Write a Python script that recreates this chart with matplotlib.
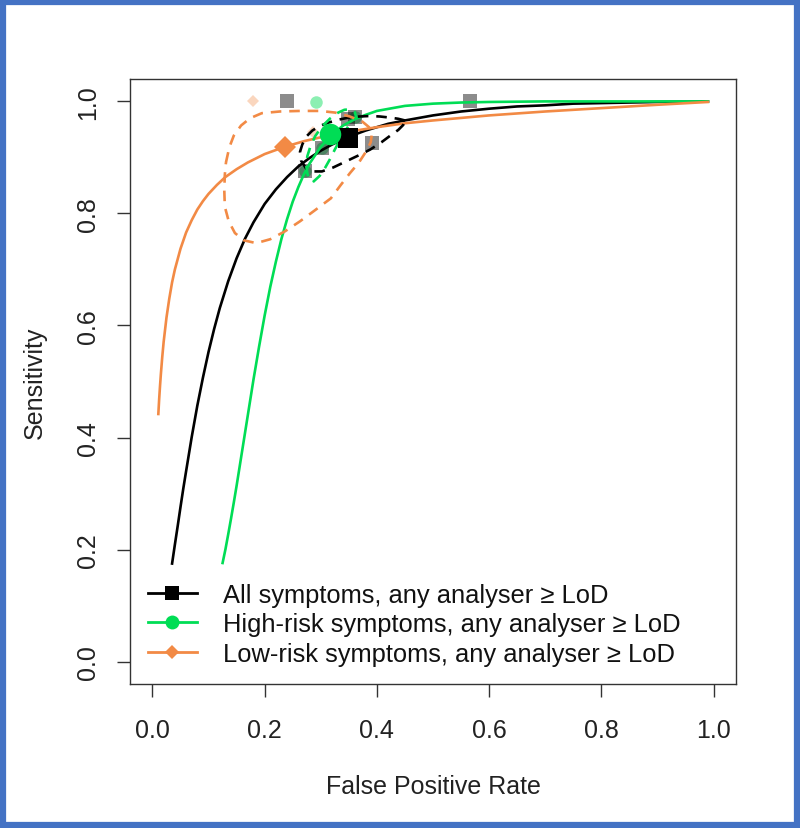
import matplotlib
matplotlib.use('Agg')
import matplotlib.pyplot as plt
from matplotlib.patches import Rectangle
from matplotlib.lines import Line2D

plt.rcParams['font.family'] = ['Liberation Sans', 'DejaVu Sans']

# ---------------- data ----------------
series_labels = ["All symptoms, any analyser \u2265 LoD",
                 "High-risk symptoms, any analyser \u2265 LoD",
                 "Low-risk symptoms, any analyser \u2265 LoD"]

# SROC curves (FPR, sensitivity)
all_curve_fpr = [0.035, 0.04, 0.045, 0.05, 0.055, 0.06, 0.07, 0.08, 0.09, 0.10, 0.11, 0.12,
                 0.135, 0.15, 0.165, 0.18, 0.20, 0.22, 0.24, 0.26, 0.28, 0.30, 0.32, 0.35,
                 0.38, 0.42, 0.45, 0.50, 0.55, 0.60, 0.65, 0.70, 0.75, 0.80, 0.90, 0.99]
all_curve_sens = [0.175, 0.209, 0.242, 0.276, 0.309, 0.340, 0.401, 0.457, 0.507, 0.553, 0.594, 0.631,
                  0.679, 0.720, 0.755, 0.784, 0.817, 0.843, 0.865, 0.884, 0.899, 0.912, 0.923, 0.937,
                  0.948, 0.960, 0.966, 0.975, 0.982, 0.987, 0.991, 0.993, 0.996, 0.997, 0.999, 1.000]

high_curve_fpr = [0.125, 0.13, 0.135, 0.14, 0.145, 0.15, 0.16, 0.17, 0.18, 0.19, 0.20, 0.21,
                  0.22, 0.23, 0.24, 0.25, 0.26, 0.27, 0.28, 0.30, 0.32, 0.34, 0.36, 0.38,
                  0.40, 0.45, 0.50, 0.55, 0.60, 0.70, 0.80, 0.90, 0.99]
high_curve_sens = [0.176, 0.200, 0.227, 0.255, 0.284, 0.314, 0.377, 0.440, 0.503, 0.562, 0.618, 0.669,
                   0.714, 0.755, 0.790, 0.821, 0.847, 0.870, 0.889, 0.919, 0.941, 0.957, 0.968, 0.976,
                   0.983, 0.992, 0.996, 0.998, 0.999, 1.000, 1.000, 1.000, 1.000]

low_curve_fpr = [0.0105, 0.012, 0.0135, 0.015, 0.0175, 0.02, 0.025, 0.03, 0.035, 0.04, 0.05,
                 0.06, 0.07, 0.08, 0.09, 0.10, 0.115, 0.13, 0.15, 0.17, 0.20, 0.236, 0.27,
                 0.30, 0.35, 0.40, 0.45, 0.50, 0.60, 0.70, 0.80, 0.90, 0.99]
low_curve_sens = [0.442, 0.469, 0.492, 0.513, 0.544, 0.571, 0.614, 0.648, 0.677, 0.700, 0.737,
                  0.766, 0.788, 0.807, 0.822, 0.835, 0.851, 0.865, 0.879, 0.891, 0.906, 0.919, 0.929,
                  0.936, 0.946, 0.954, 0.961, 0.966, 0.975, 0.982, 0.988, 0.994, 0.999]

# 95% confidence regions (dashed)
all_ci_fpr = [0.450, 0.438, 0.424, 0.406, 0.388, 0.368, 0.349, 0.330, 0.313, 0.298, 0.285,
              0.274, 0.267, 0.263, 0.265, 0.274, 0.287, 0.302, 0.322, 0.343, 0.366, 0.388,
              0.408, 0.424, 0.438, 0.447, 0.450]
all_ci_sens = [0.966, 0.969, 0.971, 0.973, 0.974, 0.973, 0.971, 0.967, 0.962, 0.956, 0.948,
               0.937, 0.923, 0.910, 0.894, 0.880, 0.875, 0.875, 0.882, 0.892, 0.903, 0.914,
               0.927, 0.939, 0.949, 0.958, 0.966]

high_ci_fpr = [0.286, 0.298, 0.308, 0.317, 0.325, 0.334, 0.343, 0.354, 0.363, 0.360, 0.352,
               0.342, 0.331, 0.316, 0.302, 0.290, 0.281, 0.276, 0.274, 0.276, 0.279, 0.286]
high_ci_sens = [0.856, 0.867, 0.882, 0.898, 0.914, 0.931, 0.947, 0.962, 0.973, 0.982, 0.986,
                0.985, 0.980, 0.969, 0.955, 0.938, 0.918, 0.902, 0.886, 0.872, 0.861, 0.856]

low_ci_fpr = [0.131, 0.137, 0.145, 0.158, 0.174, 0.195, 0.227, 0.263, 0.299, 0.326, 0.352,
              0.374, 0.386, 0.391, 0.389, 0.381, 0.368, 0.352, 0.335, 0.318, 0.290, 0.263,
              0.236, 0.210, 0.185, 0.163, 0.147, 0.136, 0.129, 0.128, 0.129, 0.131]
low_ci_sens = [0.891, 0.918, 0.939, 0.957, 0.970, 0.979, 0.982, 0.983, 0.983, 0.980, 0.973,
               0.964, 0.954, 0.941, 0.927, 0.911, 0.891, 0.872, 0.850, 0.827, 0.806, 0.786,
               0.768, 0.754, 0.747, 0.752, 0.765, 0.786, 0.812, 0.843, 0.869, 0.891]

# individual studies
all_study_fpr = [0.239, 0.566, 0.361, 0.349, 0.392, 0.302, 0.271]
all_study_sens = [1.000, 1.000, 0.972, 0.968, 0.926, 0.916, 0.875]
high_study_fpr = [0.291, 0.361, 0.302, 0.271]
high_study_sens = [0.999, 0.972, 0.916, 0.875]
low_study_fpr = [0.179, 0.286]
low_study_sens = [1.000, 0.945]

# summary points
summary_fpr = [0.349, 0.317, 0.236]
summary_sens = [0.935, 0.941, 0.919]

x_ticks = [0.0, 0.2, 0.4, 0.6, 0.8, 1.0]
y_ticks = [0.0, 0.2, 0.4, 0.6, 0.8, 1.0]

# ---------------- styling ----------------
BLACK = '#000000'
GREEN = '#00DD55'
ORANGE = '#F28A45'
FS = 18

fig = plt.figure(figsize=(8.0, 8.29), dpi=100)
ax = fig.add_axes([130/800, 144/829, 606/800, 605/829])

# studies
ax.plot(high_study_fpr, high_study_sens, 'o', color=GREEN, alpha=0.45, ms=9, mew=0, zorder=2)
ax.plot(low_study_fpr, low_study_sens, 'D', color=ORANGE, alpha=0.35, ms=6.5, mew=0, zorder=2)
ax.plot(all_study_fpr, all_study_sens, 's', color=BLACK, alpha=0.45, ms=9.5, mew=0, zorder=2)

# curves
lw = 1.9
ax.plot(all_curve_fpr, all_curve_sens, '-', color=BLACK, lw=lw, zorder=3)
ax.plot(high_curve_fpr, high_curve_sens, '-', color=GREEN, lw=lw, zorder=3)
ax.plot(low_curve_fpr, low_curve_sens, '-', color=ORANGE, lw=lw, zorder=3)

# confidence regions
dash = (0, (4, 3))
ax.plot(all_ci_fpr, all_ci_sens, color=BLACK, lw=lw, ls=dash, zorder=3)
ax.plot(high_ci_fpr, high_ci_sens, color=GREEN, lw=lw, ls=dash, zorder=3)
ax.plot(low_ci_fpr, low_ci_sens, color=ORANGE, lw=lw, ls=dash, zorder=3)

# summary points
ax.plot(summary_fpr[0], summary_sens[0], 's', color=BLACK, ms=15, mew=0, zorder=4)
ax.plot(summary_fpr[1], summary_sens[1], 'o', color=GREEN, ms=15.5, mew=0, zorder=5)
ax.plot(summary_fpr[2], summary_sens[2], 'D', color=ORANGE, ms=11, mew=0, zorder=4)

ax.set_xlim(-0.04, 1.04)
ax.set_ylim(-0.04, 1.04)
ax.set_xticks(x_ticks)
ax.set_yticks(y_ticks)
ax.set_xticklabels([f"{v:.1f}" for v in x_ticks])
ax.set_yticklabels([f"{v:.1f}" for v in y_ticks], rotation=90, va='center')
ax.tick_params(length=9.5, width=1, labelsize=FS, color='#333333', labelcolor='#222222')
ax.tick_params(axis='x', pad=15)
ax.tick_params(axis='y', pad=12)
for s in ax.spines.values():
    s.set_linewidth(1)
    s.set_color('#333333')

ax.set_xlabel("False Positive Rate", fontsize=FS, color='#222222')
ax.set_ylabel("Sensitivity", fontsize=FS, color='#222222')
ax.xaxis.set_label_coords(0.5, (42 - 144) / 605)
ax.xaxis.label.set_va('center')
ax.yaxis.set_label_coords((35 - 130) / 606, 0.5)
ax.yaxis.label.set_va('center')

handles = [
    Line2D([], [], color=BLACK, lw=2, marker='s', ms=10, mew=0),
    Line2D([], [], color=GREEN, lw=2, marker='o', ms=10, mew=0),
    Line2D([], [], color=ORANGE, lw=2, marker='D', ms=7.5, mew=0),
]
leg = ax.legend(handles, series_labels, loc='lower left', frameon=False,
                bbox_to_anchor=(148/800, (829 - 667)/829), bbox_transform=fig.transFigure,
                borderpad=0, borderaxespad=0, fontsize=18.4, labelspacing=0.22,
                handlelength=1.9, handletextpad=1.05)
for t in leg.get_texts():
    t.set_color('#111111')

fig.patches.append(Rectangle((3/800, 3/829), 1 - 6/800, 1 - 6/829, transform=fig.transFigure,
                             fill=False, edgecolor='#4472C4', lw=4.5, zorder=10))

fig.savefig('out.png', dpi=100)
